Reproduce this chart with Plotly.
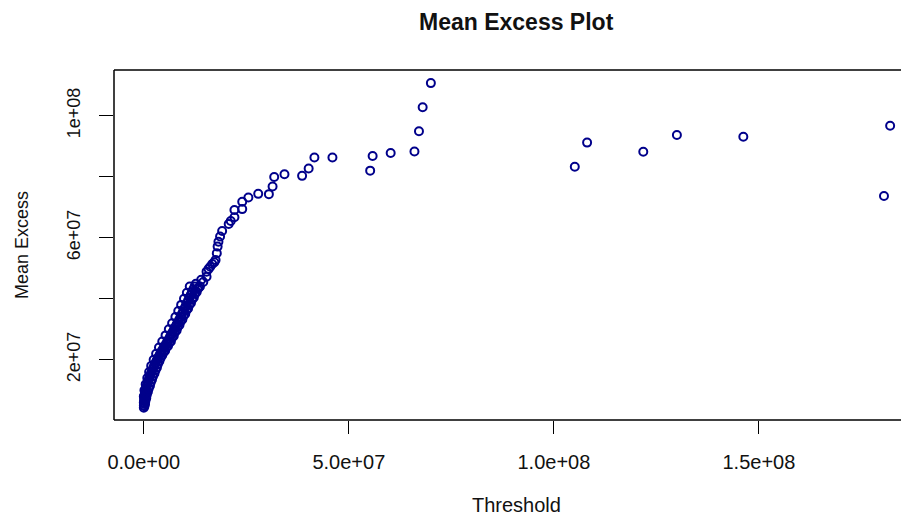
import plotly.graph_objects as go

# Threshold values (millions) and mean excess values (millions)
threshold_m = [
    # dense band, centre track
    0.00, 0.01, 0.03, 0.06, 0.10, 0.16, 0.24, 0.33, 0.44, 0.56, 0.70, 0.85, 1.01, 1.18,
    1.36, 1.55, 1.75, 1.96, 2.17, 2.39, 2.62, 2.86, 3.11, 3.37, 3.64, 3.92, 4.21, 4.51,
    4.82, 5.14, 5.46, 5.78, 6.10, 6.42, 6.74, 7.06, 7.38, 7.70, 8.02, 8.34, 8.66, 8.97,
    9.28, 9.59, 9.90, 10.21, 10.52, 10.83, 11.14, 11.45, 11.76, 12.07, 12.38, 12.70,
    # dense band, left track
    0.0, 0.0, 0.15, 0.45, 0.85, 1.3, 1.8, 2.4, 3.0, 3.7, 4.5, 5.3, 6.1, 6.9, 7.7, 8.4,
    9.1, 9.8, 10.5, 11.2,
    # dense band, right track
    0.3, 0.6, 1.0, 1.5, 2.0, 2.6, 3.2, 3.8, 4.5, 5.2, 5.9, 6.6, 7.3, 8.0, 8.7, 9.4,
    10.1, 10.8, 11.5, 12.2, 12.9, 13.4,
    # dense band, between centre and right
    0.15, 0.4, 0.75, 1.2, 1.7, 2.25, 2.85, 3.45, 4.1, 4.8, 5.5, 6.2, 6.9, 7.6, 8.3, 9.0,
    9.7, 10.4, 11.1, 11.8, 12.5, 13.1,
    # upper part of the curve and the tail
    13.7, 14.0, 14.5, 15.3, 15.3, 15.8, 16.2, 16.7, 17.2, 17.5, 17.8, 18.0, 18.2, 18.6,
    19.1, 20.7, 21.2, 22.1, 22.1, 24.0, 24.0, 25.5, 27.9, 30.5, 31.4, 31.8, 34.3, 38.6,
    40.2, 41.6, 46.0, 55.2, 55.8, 60.2, 66.0, 67.1, 68.0, 70.0, 105.1, 108.1, 121.8,
    130.0, 146.2, 180.5, 182.0,
]
mean_excess_m = [
    4.3, 5.0, 5.7, 6.4, 7.1, 7.8, 8.5, 9.2, 9.9, 10.6, 11.3, 12.0, 12.7, 13.4,
    14.1, 14.8, 15.5, 16.2, 16.9, 17.6, 18.3, 19.0, 19.7, 20.4, 21.1, 21.8, 22.5, 23.2,
    23.9, 24.6, 25.3, 26.0, 26.8, 27.6, 28.4, 29.2, 30.0, 30.8, 31.6, 32.4, 33.2, 34.1,
    35.0, 35.9, 36.8, 37.7, 38.6, 39.5, 40.4, 41.3, 42.2, 43.1, 44.0, 44.9,
    6.0, 8.0, 10.0, 12.0, 14.0, 16.0, 18.0, 20.0, 22.0, 24.0, 26.0, 28.0, 30.0, 32.0, 34.0, 36.0,
    38.0, 40.0, 42.0, 44.0,
    5.5, 7.5, 9.5, 11.5, 13.5, 15.5, 17.5, 19.5, 21.5, 23.0, 24.5, 26.0, 27.8, 29.6, 31.4, 33.2,
    35.0, 36.8, 38.6, 40.4, 42.2, 43.6,
    4.8, 6.6, 8.6, 10.6, 12.6, 14.6, 16.6, 18.6, 20.6, 22.4, 24.0, 25.5, 27.2, 29.0, 30.8, 32.6,
    34.4, 36.2, 38.0, 39.8, 41.6, 43.2,
    44.0, 46.2, 45.5, 47.2, 48.9, 49.8, 50.5, 51.4, 52.0, 52.7, 54.9, 57.1, 58.7, 60.4,
    62.2, 64.5, 65.5, 66.7, 69.1, 69.4, 71.8, 73.2, 74.4, 74.3, 76.8, 79.9, 80.8, 80.3,
    82.7, 86.3, 86.3, 82.0, 86.8, 87.8, 88.3, 94.9, 102.8, 110.7, 83.3, 91.2, 88.2,
    93.7, 93.1, 73.7, 96.7,
]

x_tick_vals = [0, 5e7, 1e8, 1.5e8]
x_tick_text = ["0.0e+00", "5.0e+07", "1.0e+08", "1.5e+08"]
y_tick_vals = [2e7, 4e7, 6e7, 8e7, 1e8]
y_tick_text = ["2e+07", "", "6e+07", "", "1e+08"]

threshold = [v * 1e6 for v in threshold_m]
mean_excess = [v * 1e6 for v in mean_excess_m]

FONT = "Liberation Sans, Arial, sans-serif"

# page body has an 8px margin, so the figure is 8px smaller than the window
W, H = 901, 511
L, T, B = 106, 62, 99
plot_w = W - L

fig = go.Figure()
fig.add_trace(go.Scatter(
    x=threshold, y=mean_excess, mode="markers",
    marker=dict(symbol="circle-open", size=8, color="#00008B",
                line=dict(width=2, color="#00008B")),
    hoverinfo="skip", showlegend=False,
))

fig.update_layout(
    width=W, height=H,
    margin=dict(l=L, r=0, t=T, b=B),
    paper_bgcolor="white", plot_bgcolor="white",
    font=dict(family=FONT, color="black"),
    xaxis=dict(
        range=[-7.27e6, 186.6e6], showgrid=False, zeroline=False,
        showline=False, ticks="outside", ticklen=13, tickwidth=1.3, tickcolor="black",
        tickvals=x_tick_vals, ticktext=x_tick_text,
        tickfont=dict(size=20, family=FONT, color="#111"),
        ticklabelstandoff=11,
    ),
    yaxis=dict(
        range=[0.26e6, 115.0e6], showgrid=False, zeroline=False,
        showline=False, ticks="outside", ticklen=14, tickwidth=1.3, tickcolor="black",
        tickvals=y_tick_vals, ticktext=y_tick_text, tickangle=-90,
        tickfont=dict(size=18, family=FONT, color="#111"),
        ticklabelstandoff=12,
    ),
    shapes=[
        dict(type="line", xref="paper", yref="paper", x0=0, x1=0, y0=0, y1=1,
             line=dict(color="black", width=1.5)),
        dict(type="line", xref="paper", yref="paper", x0=0, x1=1, y0=0, y1=0,
             line=dict(color="black", width=1.5)),
        dict(type="line", xref="paper", yref="paper", x0=0, x1=1, y0=1, y1=1,
             line=dict(color="black", width=1.5)),
    ],
    annotations=[
        dict(text="<b>Mean Excess Plot</b>", xref="paper", yref="paper",
             x=(516 - 114) / plot_w, y=1, yshift=48, showarrow=False,
             xanchor="center", yanchor="middle",
             font=dict(size=23, family=FONT, color="#111")),
        dict(text="Threshold", xref="paper", yref="paper",
             x=(516 - 114) / plot_w, y=0, yshift=-85, showarrow=False,
             xanchor="center", yanchor="middle",
             font=dict(size=20, family=FONT, color="#111")),
        dict(text="Mean Excess", xref="paper", yref="paper",
             x=0, xshift=-92, y=0.5, showarrow=False, textangle=-90,
             xanchor="center", yanchor="middle",
             font=dict(size=18, family=FONT, color="#111")),
    ],
)

fig.write_html("out.html")
